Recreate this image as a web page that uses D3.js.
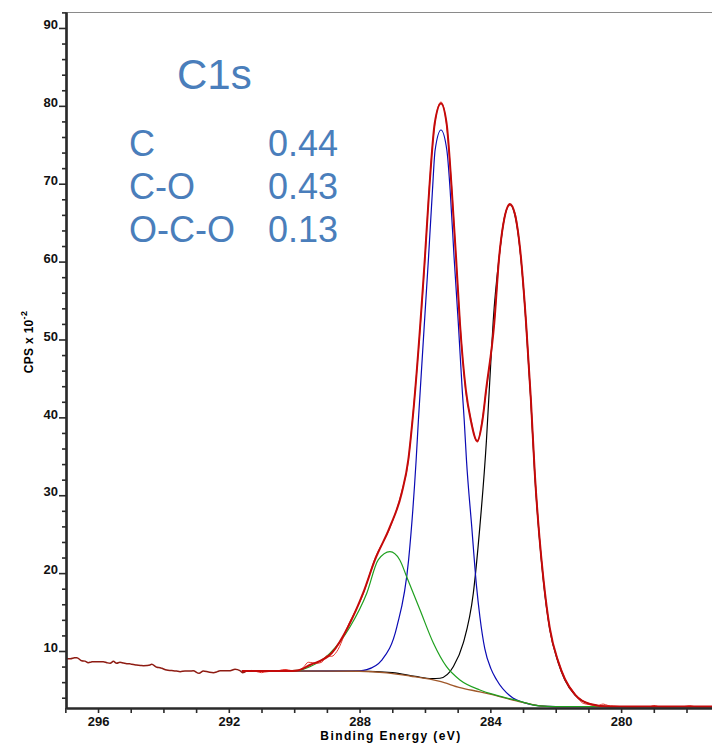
<!DOCTYPE html>
<html>
<head>
<meta charset="utf-8">
<script src="https://cdn.jsdelivr.net/npm/d3@7"></script>
<style>
  body { margin: 0; background: #fff; }
  svg { display: block; font-family: "Liberation Sans", Arial, sans-serif; }
  .tick text { font-weight: bold; font-size: 13px; fill: #111; }
  .note { fill: #4a7ebb; }
</style>
</head>
<body>
<div class="graph"></div>
<script>
// --- data (binding energy in eV, counts in CPS x 10^-2) ---
const energyMajor = [296, 292, 288, 284, 280];
const energyMinor = [297, 295, 294, 293, 291, 290, 289, 287, 286, 285, 283, 282, 281, 279, 278];
const cpsMajor = [10, 20, 30, 40, 50, 60, 70, 80, 90];
const cpsMinor = [4, 6, 8, 12, 14, 16, 18, 22, 24, 26, 28, 32, 34, 36, 38, 42, 44, 46, 48,
                  52, 54, 56, 58, 62, 64, 66, 68, 72, 74, 76, 78, 82, 84, 86, 88, 92];

const componentNames = ["C", "C-O", "O-C-O"];
const componentShares = ["0.44", "0.43", "0.13"];

// raw counts outside the fit region
const rawOuterE = [297.0, 296.85, 296.72, 296.65, 296.5, 296.4, 296.3, 296.2, 296.14, 296.0, 295.84, 295.73,
  295.63, 295.53, 295.43, 295.33, 295.22, 295.12, 295.03, 294.97, 294.82, 294.7, 294.61, 294.5, 294.41,
  294.36, 294.2, 294.1, 294.05, 293.9, 293.8, 293.7, 293.6, 293.49, 293.34, 293.2, 293.09, 292.91, 292.78,
  292.62, 292.47, 292.35, 292.27, 292.1, 291.96, 291.81, 291.66, 291.58, 291.45];
const rawOuterV = [9.06, 9.0, 9.12, 9.14, 8.75, 8.7, 8.5, 8.6, 8.63, 8.62, 8.63, 8.5,
  8.42, 8.67, 8.42, 8.55, 8.45, 8.37, 8.35, 8.29, 8.2, 8.15, 8.12, 8.14, 8.2,
  8.29, 7.91, 7.85, 7.78, 7.56, 7.5, 7.47, 7.42, 7.35, 7.43, 7.42, 7.47, 7.13, 7.43,
  7.3, 7.22, 7.35, 7.47, 7.45, 7.47, 7.65, 7.47, 7.22, 7.45];

// raw counts inside the fit region
const rawE = [291.45, 291.3, 291.1, 291.0, 290.9, 290.7, 290.5, 290.35, 290.25, 290.1, 289.95, 289.82, 289.7,
  289.57, 289.45, 289.31, 289.16, 289.01, 288.85, 288.7, 288.35, 287.89, 287.53, 287.07, 286.71, 286.51,
  286.38, 286.0, 285.87, 285.7, 285.51, 285.34, 285.18, 285.05, 284.93, 284.75, 284.6, 284.4, 284.24,
  284.13, 283.88, 283.73, 283.58, 283.4, 283.25, 283.07, 282.91, 282.76, 282.64, 282.38, 282.18, 281.92,
  281.72, 281.41, 281.16, 280.95, 280.75, 280.55, 280.4, 280.24, 279.9, 279.63, 279.3, 279.12, 279.0,
  278.8, 278.61, 278.3, 278.1, 277.9, 277.7, 277.5, 277.22];
const rawV = [7.45, 7.5, 7.3, 7.22, 7.3, 7.4, 7.45, 7.6, 7.62, 7.5, 7.5, 7.56, 8.0,
  8.55, 8.5, 8.42, 8.55, 9.36, 9.32, 9.91, 13.3, 17.3, 21.9, 25.8, 30.5, 34.4,
  39.8, 60.4, 69.4, 77.6, 80.5, 77.6, 69.4, 60.4, 52.3, 43.3, 39.9, 36.8, 39.9,
  43.3, 52.3, 60.4, 65.5, 67.2, 66.3, 60.6, 52.5, 42.1, 33.0, 19.3, 12.8, 8.7,
  6.5, 4.5, 3.28, 3.1, 2.94, 3.19, 3.0, 2.94, 2.82, 2.77, 2.85, 2.85, 3.0,
  2.8, 2.77, 2.85, 2.85, 2.98, 2.8, 2.77, 2.8];

// Shirley-type background
const bgE = [291.6, 289.0, 288.0, 287.17, 286.46, 285.54, 284.93, 284.32, 284.01, 283.2, 282.48, 282.1, 280.0, 277.22];
const bgV = [7.43, 7.42, 7.4, 7.2, 6.79, 6.1, 5.3, 4.75, 4.45, 3.6, 2.95, 2.85, 2.85, 2.85];

// C-O component (blue)
const coE = [291.6, 288.5, 288.0, 287.78, 287.32, 286.86, 286.5, 286.27, 286.2, 285.89, 285.77, 285.69, 285.51,
  285.33, 285.23, 285.11, 284.98, 284.86, 284.8, 284.73, 284.57, 284.42, 284.32, 284.17, 283.98, 283.81,
  283.31, 283.0, 282.5, 282.0, 277.22];
const coV = [7.43, 7.42, 7.45, 7.6, 8.84, 13.1, 21.7, 34.5, 39.7, 60.6, 69.2, 74.3, 76.9,
  74.3, 69.2, 60.6, 52.1, 43.5, 39.7, 34.5, 26.0, 18.2, 14.4, 10.3, 7.7, 6.3,
  3.96, 3.4, 2.95, 2.85, 2.85];

// C component (black)
const cE = [291.6, 288.0, 287.0, 286.3, 285.8, 285.54, 285.13, 284.83, 284.52, 284.32, 284.12, 284.02, 283.91,
  283.73, 283.55, 283.4, 283.25, 283.07, 282.91, 282.76, 282.64, 282.5, 282.38, 282.18, 281.92, 281.72,
  281.41, 280.95, 280.34, 277.22];
const cV = [7.43, 7.42, 7.22, 6.75, 6.45, 6.5, 8.0, 11.0, 17.45, 26.0, 37.0, 44.5, 52.5,
  60.6, 66.0, 67.3, 66.0, 60.6, 52.1, 42.0, 32.5, 24.5, 19.1, 12.7, 8.46, 6.28,
  4.35, 3.19, 2.85, 2.85];

// O-C-O component (green)
const ocoE = [291.6, 290.5, 289.9, 289.52, 288.91, 288.29, 287.78, 287.43, 287.07, 286.77, 286.56, 286.15, 285.74,
  285.34, 284.93, 284.32, 283.8, 283.2, 282.5, 282.0, 277.22];
const ocoV = [7.43, 7.43, 7.5, 7.98, 9.7, 13.12, 17.41, 21.69, 22.75, 21.69, 19.54, 15.26, 10.99,
  7.98, 6.28, 5.0, 4.3, 3.65, 2.95, 2.85, 2.85];

// fit envelope (red)
const envE = [291.6, 290.2, 289.91, 289.52, 288.85, 288.35, 287.89, 287.53, 287.07, 286.71, 286.51, 286.38, 286.0,
  285.87, 285.7, 285.51, 285.34, 285.18, 285.05, 284.93, 284.75, 284.6, 284.4, 284.24, 284.13, 283.88,
  283.73, 283.58, 283.4, 283.25, 283.07, 282.91, 282.76, 282.64, 282.5, 282.38, 282.18, 281.92, 281.72,
  281.41, 280.95, 280.34, 277.22];
const envV = [7.43, 7.43, 7.5, 8.2, 9.74, 13.12, 17.45, 21.69, 25.96, 30.29, 34.53, 39.66, 60.63,
  69.2, 77.8, 80.3, 77.8, 69.2, 60.63, 52.08, 43.52, 39.66, 36.97, 39.66, 43.52, 52.08,
  60.63, 65.35, 67.4, 66.1, 60.8, 52.3, 42.3, 32.8, 24.7, 19.4, 12.9, 8.6, 6.4,
  4.4, 3.2, 2.86, 2.86];

// --- layout ---
const w = 712;
const h = 744;
const padL = 66, padR = 712, padT = 12, padB = 708;

const x = d3.scaleLinear().domain([296.98, 277.22]).range([padL, padR]);
const y = d3.scaleLinear().domain([2.68, 92.05]).range([padB, padT]);

const svg = d3.select(".graph")
  .append("svg")
  .attr("width", w)
  .attr("height", h);

svg.append("defs").append("clipPath").attr("id", "plotClip")
  .append("rect")
  .attr("x", padL).attr("y", padT)
  .attr("width", padR - padL).attr("height", padB - padT);

// top frame
svg.append("line")
  .attr("x1", padL).attr("x2", padR)
  .attr("y1", padT + 0.5).attr("y2", padT + 0.5)
  .attr("stroke", "#8a8a8a").attr("stroke-width", 1.2);

const zip = (es, vs) => es.map((e, i) => [e, vs[i]]);
const line = d3.line()
  .x(d => x(d[0]))
  .y(d => y(d[1]))
  .curve(d3.curveMonotoneX);

const plot = svg.append("g").attr("clip-path", "url(#plotClip)");

// drawing order: components, background, raw data, envelope on top
const series = [
  { data: zip(rawOuterE, rawOuterV), color: "#8e1b12", width: 1.5 },
  { data: zip(cE, cV), color: "#000000", width: 1.2 },
  { data: zip(coE, coV), color: "#0a0ab4", width: 1.2 },
  { data: zip(bgE, bgV), color: "#a0582a", width: 1.3 },
  { data: zip(ocoE, ocoV), color: "#1fa01f", width: 1.2 },
  { data: zip(rawE, rawV), color: "#e8342c", width: 1 },
  { data: zip(envE, envV), color: "#c40a0a", width: 2 }
];

plot.selectAll("path.series")
  .data(series)
  .enter()
  .append("path")
  .attr("class", "series")
  .attr("fill", "none")
  .attr("stroke", d => d.color)
  .attr("stroke-width", d => d.width)
  .attr("stroke-linejoin", "round")
  .attr("d", d => line(d.data));

// axes
const yAxis = d3.axisLeft(y).tickValues(cpsMajor).tickSize(7).tickPadding(1).tickSizeOuter(0);
const yMinor = d3.axisLeft(y).tickValues(cpsMinor).tickSize(4).tickFormat("").tickSizeOuter(0);
const xAxis = d3.axisBottom(x).tickValues(energyMajor).tickSize(5).tickPadding(4).tickSizeOuter(0);
const xMinor = d3.axisBottom(x).tickValues(energyMinor).tickSize(5).tickFormat("").tickSizeOuter(0);

const gy = svg.append("g").attr("transform", "translate(" + padL + ",0)").call(yAxis);
gy.selectAll(".tick text").attr("dy", "0.05em");
svg.append("g").attr("transform", "translate(" + padL + ",0)").call(yMinor);

svg.append("g").attr("transform", "translate(0," + padB + ")").call(xAxis);
svg.append("g").attr("transform", "translate(0," + padB + ")").call(xMinor);

svg.selectAll(".domain").attr("stroke", "#2a2a2a").attr("stroke-width", 2.2);
svg.selectAll(".tick line").attr("stroke", "#2a2a2a").attr("stroke-width", 1.6);

// axis titles
svg.append("text")
  .attr("x", 391)
  .attr("y", 740)
  .attr("text-anchor", "middle")
  .attr("font-size", 12)
  .attr("font-weight", "bold")
  .attr("letter-spacing", 1.4)
  .text("Binding Energy (eV)");

const yt = svg.append("text")
  .attr("transform", "translate(33,342) rotate(-90)")
  .attr("text-anchor", "middle")
  .attr("font-size", 12)
  .attr("font-weight", "bold")
  .attr("letter-spacing", 0.3);
yt.append("tspan").text("CPS x 10");
yt.append("tspan").attr("font-size", 9).attr("dy", -6).text("-2");

// annotations
svg.append("text")
  .attr("class", "note")
  .attr("x", 177)
  .attr("y", 89)
  .attr("font-size", 42)
  .text("C1s");

const rowY = [156, 199, 242];
svg.selectAll("text.lbl")
  .data(componentNames)
  .enter()
  .append("text")
  .attr("class", "note lbl")
  .attr("x", 129)
  .attr("y", (d, i) => rowY[i])
  .attr("font-size", 36)
  .text(d => d);

svg.selectAll("text.val")
  .data(componentShares)
  .enter()
  .append("text")
  .attr("class", "note val")
  .attr("x", 268)
  .attr("y", (d, i) => rowY[i])
  .attr("font-size", 36)
  .text(d => d);
</script>
</body>
</html>
